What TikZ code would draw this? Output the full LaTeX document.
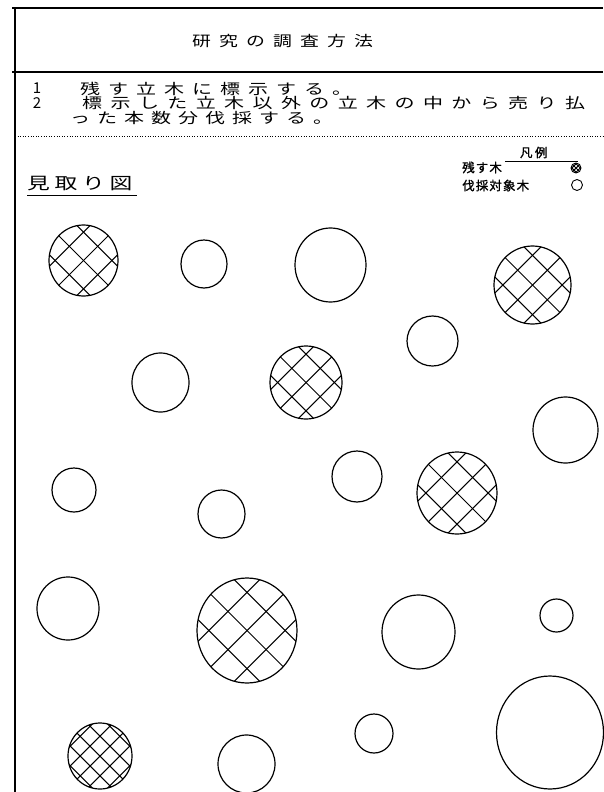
\documentclass[tikz,border=0pt]{standalone}
\usepackage{fontspec}
\usepackage{graphicx}
\newfontfamily\jp{Noto Sans CJK JP}
\newfontfamily\jpb[FakeBold=1.2]{Noto Sans CJK JP}
\usetikzlibrary{calc,shapes.geometric}
\newcommand\pitched[3]{\foreach \c in {#3}{\makebox[#1][l]{\scalebox{#2}[1]{\c}}}}
\tikzset{
  tree/.style={ellipse, draw, line width=1.2pt, inner sep=0pt},
  hatch/.style={path picture={
    \foreach \k in {-7,...,7}{
      \draw[line width=1.05pt] ($(path picture bounding box.center)+({\k*#1*1.41421},0)+(-90,-90)$) -- ++(180,180);
      \draw[line width=1.05pt] ($(path picture bounding box.center)+({\k*#1*1.41421},0)+(-90,90)$) -- ++(180,-180);
    }}},
  rule/.style={line width=1.2pt},
  body/.style={font=\jp\fontsize{14.5}{14.5}\selectfont, inner sep=0pt, anchor=west},
  num/.style={font=\jp\fontsize{15}{15}\selectfont, inner sep=0pt},
  legend/.style={font=\jpb\fontsize{12.5}{12.5}\selectfont, inner sep=0pt, anchor=west},
}
\begin{document}
\begin{tikzpicture}[x=1pt, y=-1pt]
\fill[white] (0,0) rectangle (603,792);
\useasboundingbox (0,0) rectangle (603,792);

% frame lines
\coordinate (t1) at (12,8);   \coordinate (t2) at (603,8);
\coordinate (m1) at (12,72);  \coordinate (m2) at (603,72);
\coordinate (v1) at (15,8);   \coordinate (v2) at (15,792);
\coordinate (d1) at (15,136); \coordinate (d2) at (603,136);
\draw[rule] (t1) -- (t2);
\draw[rule] (m1) -- (m2);
\draw[rule] (v1) -- (v2);
\draw[line width=0.9pt, dash pattern=on 0.9pt off 1.7pt] (d1) -- (d2);

% title
\node[body] (title) at (192,41.5) {\pitched{27pt}{1.3}{研,究,の,調,査,方,法}};

% numbered lines
\node[num] (n1) at (37,88.5) {1};
\node[num] (n2) at (37,103.5) {2};
\node[body] (l1) at (80,88.5) {\pitched{28pt}{1.38}{残,す,立,木,に,標,示,す,る,。}};
\node[body] (l2) at (82,103.5) {\pitched{28.4pt}{1.38}{標,示,し,た,立,木,以,外,の,立,木,の,中,か,ら,売,り,払}};
\node[body] (l3) at (70,118.5) {\pitched{27pt}{1.38}{っ,た,本,数,分,伐,採,す,る,。}};

% legend
\node[font=\jpb\fontsize{12.5}{12.5}\selectfont, inner sep=0pt] (hanrei) at (535,152.5) {\pitched{15pt}{1}{凡,例}};
\coordinate (u1) at (505,161); \coordinate (u2) at (578,161);
\draw[line width=1pt] (u1) -- (u2);
\node[legend] (lg1) at (462,167.5) {\pitched{13.6pt}{1}{残,す,木}};
\node[legend] (lg2) at (462,185.5) {\pitched{13.6pt}{1}{伐,採,対,象,木}};
\node[tree, line width=0.9pt, minimum width=10pt, minimum height=10pt, hatch=3] (lc1) at (576,168) {};
\node[tree, line width=0.9pt, minimum width=11pt, minimum height=11pt] (lc2) at (577,185) {};

% plan title
\node[font=\jp\fontsize{16.5}{16.5}\selectfont, inner sep=0pt, anchor=west] (mitori) at (27,184) {\pitched{27.5pt}{1.38}{見,取,り,図}};
\coordinate (w1) at (27,195); \coordinate (w2) at (137,195);
\draw[line width=1pt] (w1) -- (w2);

% trees
\node[tree, minimum width=69pt, minimum height=71pt, hatch=20] (c1) at (83.5,260.5) {};
\node[tree, minimum width=46pt, minimum height=48pt] (c2) at (204,264) {};
\node[tree, minimum width=71pt, minimum height=74pt] (c3) at (330.5,265) {};
\node[tree, minimum width=77pt, minimum height=78pt, hatch=21] (c4) at (532.5,285) {};
\node[tree, minimum width=51pt, minimum height=50pt] (c5) at (432.5,341) {};
\node[tree, minimum width=57pt, minimum height=59pt] (c6) at (160.5,382.5) {};
\node[tree, minimum width=72pt, minimum height=73pt, hatch=20] (c7) at (306,382.5) {};
\node[tree, minimum width=65pt, minimum height=66pt] (c8) at (565.5,430) {};
\node[tree, minimum width=44pt, minimum height=44pt] (c9) at (74,490) {};
\node[tree, minimum width=50pt, minimum height=51pt] (c10) at (357,476.5) {};
\node[tree, minimum width=80pt, minimum height=82pt, hatch=22] (c11) at (457,493) {};
\node[tree, minimum width=47pt, minimum height=48pt] (c12) at (221.5,514) {};
\node[tree, minimum width=62pt, minimum height=63pt] (c13) at (68,608.5) {};
\node[tree, minimum width=100pt, minimum height=105pt, hatch=27] (c14) at (247,630.5) {};
\node[tree, minimum width=73pt, minimum height=74pt] (c15) at (418.5,632) {};
\node[tree, minimum width=33pt, minimum height=33pt] (c16) at (556.5,615.5) {};
\node[tree, minimum width=64pt, minimum height=66pt, hatch=14] (c17) at (100,756) {};
\node[tree, minimum width=57pt, minimum height=58pt] (c18) at (246.5,764) {};
\node[tree, minimum width=38pt, minimum height=39pt] (c19) at (374,733.5) {};
\node[tree, minimum width=107pt, minimum height=113pt] (c20) at (550,732.5) {};
\end{tikzpicture}
\end{document}
